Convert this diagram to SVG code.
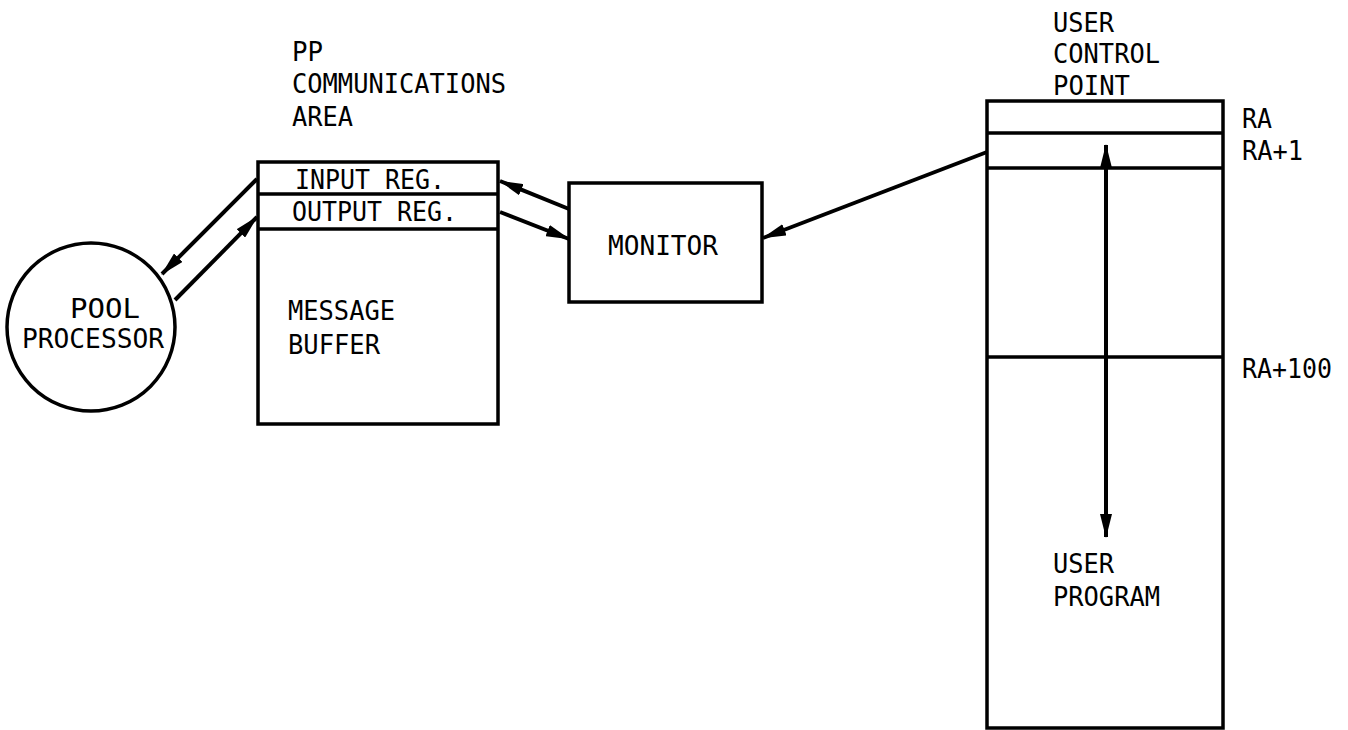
<svg xmlns="http://www.w3.org/2000/svg" width="1348" height="730" viewBox="0 0 1348 730">
<style>
.t{font-family:"DejaVu Sans Mono","Liberation Mono",monospace;font-size:27px;fill:#000}
.b{fill:#fff;stroke:#000;stroke-width:3.5}
.s{stroke:#000;stroke-width:3.5;fill:none}
.c{stroke:#000;stroke-width:4;fill:none}
</style>
<defs>
<marker id="ah" viewBox="0 0 24 12" refX="23" refY="6" markerWidth="24" markerHeight="12" markerUnits="userSpaceOnUse" orient="auto-start-reverse">
<path d="M0,0 L24,6 L0,12 z" fill="#000"/>
</marker>
</defs>
<rect width="1348" height="730" fill="#fff"/>
<g id="pool-processor">
<circle class="b" cx="91" cy="327" r="84"/>
<text class="t" x="70" y="318" textLength="70" lengthAdjust="spacingAndGlyphs">POOL</text>
<text class="t" x="22" y="348" textLength="142" lengthAdjust="spacingAndGlyphs">PROCESSOR</text>
</g>
<g id="pp-communications-area">
<text class="t" x="292" y="61" textLength="31" lengthAdjust="spacingAndGlyphs">PP</text>
<text class="t" x="292" y="93" textLength="214" lengthAdjust="spacingAndGlyphs">COMMUNICATIONS</text>
<text class="t" x="292" y="126" textLength="61" lengthAdjust="spacingAndGlyphs">AREA</text>
<rect class="b" x="258" y="162" width="240" height="262"/>
<line class="s" x1="258" y1="194" x2="498" y2="194" stroke-width="4.5"/>
<line class="s" x1="258" y1="229" x2="498" y2="229"/>
<text class="t" x="295" y="189" textLength="150" lengthAdjust="spacingAndGlyphs">INPUT REG.</text>
<text class="t" x="292" y="221" textLength="165" lengthAdjust="spacingAndGlyphs">OUTPUT REG.</text>
<text class="t" x="288" y="320" textLength="107" lengthAdjust="spacingAndGlyphs">MESSAGE</text>
<text class="t" x="288" y="354" textLength="92" lengthAdjust="spacingAndGlyphs">BUFFER</text>
</g>
<g id="monitor">
<rect class="b" x="569" y="183" width="193" height="119"/>
<text class="t" x="608" y="255" textLength="110" lengthAdjust="spacingAndGlyphs">MONITOR</text>
</g>
<g id="user-control-point">
<text class="t" x="1053" y="32" textLength="61" lengthAdjust="spacingAndGlyphs">USER</text>
<text class="t" x="1053" y="63" textLength="107" lengthAdjust="spacingAndGlyphs">CONTROL</text>
<text class="t" x="1053" y="95" textLength="77" lengthAdjust="spacingAndGlyphs">POINT</text>
<rect class="b" x="987" y="101" width="236" height="627"/>
<line class="s" x1="987" y1="133" x2="1223" y2="133" stroke-width="4.5"/>
<line class="s" x1="987" y1="168" x2="1223" y2="168"/>
<line class="s" x1="987" y1="357" x2="1223" y2="357"/>
<text class="t" x="1242" y="128" textLength="30" lengthAdjust="spacingAndGlyphs">RA</text>
<text class="t" x="1242" y="160" textLength="61" lengthAdjust="spacingAndGlyphs">RA+1</text>
<text class="t" x="1242" y="378" textLength="90" lengthAdjust="spacingAndGlyphs">RA+100</text>
<text class="t" x="1053" y="573" textLength="61" lengthAdjust="spacingAndGlyphs">USER</text>
<text class="t" x="1053" y="606" textLength="107" lengthAdjust="spacingAndGlyphs">PROGRAM</text>
</g>
<g id="connectors">
<line class="c" x1="257" y1="179" x2="162" y2="274" marker-end="url(#ah)"/>
<line class="c" x1="175" y1="300" x2="257" y2="217" marker-end="url(#ah)"/>
<line class="c" x1="569" y1="209" x2="500" y2="181" marker-end="url(#ah)"/>
<line class="c" x1="500" y1="212" x2="569" y2="239" marker-end="url(#ah)"/>
<line class="c" x1="987" y1="152" x2="763" y2="238" marker-end="url(#ah)"/>
<line class="c" x1="1106" y1="145" x2="1106" y2="537" marker-start="url(#ah)" marker-end="url(#ah)"/>
</g>
</svg>
